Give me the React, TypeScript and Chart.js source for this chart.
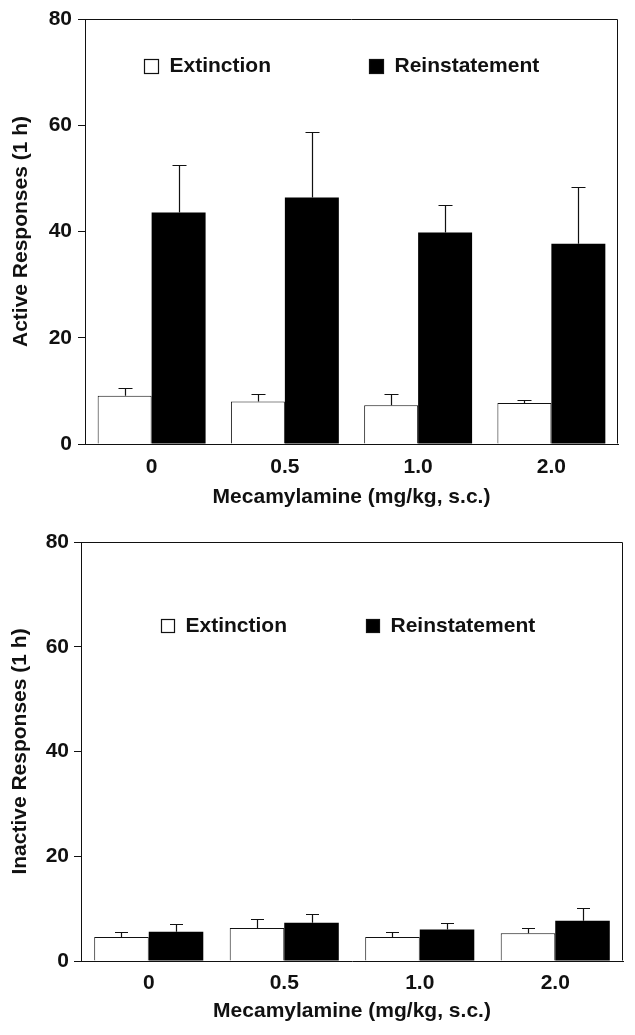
import React, { useEffect, useRef } from 'react';
import { Chart, registerables } from 'chart.js';

Chart.register(...registerables);

// ---------- data ----------
const categories = ['0', '0.5', '1.0', '2.0'];
const seriesLabels = ['Extinction', 'Reinstatement'];
const yTickValues = [0, 20, 40, 60, 80];
const xAxisTitle = 'Mecamylamine (mg/kg, s.c.)';
const activeYTitle = 'Active Responses (1 h)';
const inactiveYTitle = 'Inactive Responses (1 h)';

const activeExtinction = [9.1, 8.0, 7.3, 7.7];
const activeExtinctionErr = [1.4, 1.4, 2.1, 0.6];
const activeReinstatement = [43.6, 46.4, 39.8, 37.7];
const activeReinstatementErr = [9.0, 12.4, 5.1, 10.7];

const inactiveExtinction = [4.6, 6.3, 4.6, 5.3];
const inactiveExtinctionErr = [0.9, 1.8, 0.9, 1.0];
const inactiveReinstatement = [5.6, 7.3, 6.0, 7.7];
const inactiveReinstatementErr = [1.4, 1.7, 1.3, 2.4];

// ---------- styles ----------
const FONT_FAMILY = '"Liberation Sans", Arial, Helvetica, sans-serif';
const INK = '#111111';
const FONT_SIZE = 21;

const errorBarPlugin = {
  id: 'errorBars',
  afterDatasetsDraw(chart: any, _args: any, opts: any) {
    const ctx = chart.ctx;
    const yScale = chart.scales.y;
    chart.data.datasets.forEach((ds: any, di: number) => {
      const meta = chart.getDatasetMeta(di);
      meta.data.forEach((bar: any, i: number) => {
        const v = ds.data[i];
        const e = ds.errors[i];
        const yTop = yScale.getPixelForValue(v + e);
        const x = Math.round(bar.x) + 0.5;
        const yt = Math.round(yTop) + 0.5;
        ctx.save();
        ctx.strokeStyle = INK;
        ctx.lineWidth = opts.lineWidth;
        ctx.beginPath();
        ctx.moveTo(x, bar.y);
        ctx.lineTo(x, yt);
        ctx.moveTo(x - opts.capWidth / 2, yt);
        ctx.lineTo(x + opts.capWidth / 2, yt);
        ctx.stroke();
        ctx.restore();
      });
    });
  },
};

const frameBoxPlugin = {
  id: 'frameBox',
  afterDraw(chart: any) {
    const { ctx, chartArea } = chart;
    const l = Math.round(chartArea.left) + 0.5;
    const r = Math.round(chartArea.right) - 0.5;
    const t = Math.round(chartArea.top) + 0.5;
    const b = Math.round(chartArea.bottom) - 0.5;
    ctx.save();
    ctx.strokeStyle = INK;
    ctx.lineWidth = 1;
    ctx.beginPath();
    ctx.moveTo(l, t);
    ctx.lineTo(r, t);
    ctx.lineTo(r, b);
    ctx.stroke();
    ctx.restore();
  },
};

const insideLegendPlugin = {
  id: 'insideLegend',
  afterDraw(chart: any, _args: any, opts: any) {
    const { ctx, chartArea } = chart;
    ctx.save();
    ctx.font = `bold ${FONT_SIZE}px ${FONT_FAMILY}`;
    ctx.textBaseline = 'middle';
    ctx.textAlign = 'left';
    chart.data.datasets.forEach((ds: any, di: number) => {
      const bx = Math.round(chartArea.left + opts.offsets[di]) + 0.5;
      const by = Math.round(chartArea.top + opts.top) + 0.5;
      const s = opts.boxSize;
      ctx.fillStyle = ds.backgroundColor;
      ctx.fillRect(bx, by, s, s);
      ctx.strokeStyle = INK;
      ctx.lineWidth = 1.2;
      ctx.strokeRect(bx, by, s, s);
      ctx.fillStyle = INK;
      ctx.fillText(ds.label, bx + s + opts.gap, by + s / 2);
    });
    ctx.restore();
  },
};

type PanelProps = {
  width: number;
  height: number;
  extinction: number[];
  extinctionErr: number[];
  reinstatement: number[];
  reinstatementErr: number[];
  yTitle: string;
  padTop: number;
  padRight: number;
  yWidth: number;
  xHeight: number;
  yTitlePad: number;
  xTitlePad: number;
  xTickPad: number;
  yTickPad: number;
  catPct: number;
  capWidth: number;
  legendTop: number;
  legendOffsets: number[];
  legendBox: number;
};

function BarPanel(p: PanelProps) {
  const ref = useRef<HTMLCanvasElement | null>(null);
  useEffect(() => {
    if (!ref.current) return;
    const font = { family: FONT_FAMILY, size: FONT_SIZE, weight: 'bold' as const };
    const chart = new Chart(ref.current, {
      type: 'bar',
      data: {
        labels: categories,
        datasets: [
          {
            label: seriesLabels[0],
            data: p.extinction,
            errors: p.extinctionErr,
            backgroundColor: '#ffffff',
            borderColor: INK,
            borderWidth: 1,
            categoryPercentage: p.catPct,
            barPercentage: 1,
          } as any,
          {
            label: seriesLabels[1],
            data: p.reinstatement,
            errors: p.reinstatementErr,
            backgroundColor: '#000000',
            borderColor: '#000000',
            borderWidth: 0,
            categoryPercentage: p.catPct,
            barPercentage: 1,
          } as any,
        ],
      },
      options: {
        animation: false,
        responsive: false,
        devicePixelRatio: 1,
        layout: { padding: { top: p.padTop, right: p.padRight, bottom: 0, left: 0 } },
        plugins: {
          legend: { display: false },
          tooltip: { enabled: false },
          errorBars: { capWidth: p.capWidth, lineWidth: 1.2 },
          insideLegend: { top: p.legendTop, offsets: p.legendOffsets, boxSize: p.legendBox, gap: 11 },
        } as any,
        scales: {
          x: {
            type: 'category',
            offset: true,
            grid: { display: false, drawTicks: false },
            border: { display: true, color: INK, width: 1 },
            ticks: { font, color: INK, padding: p.xTickPad, maxRotation: 0, autoSkip: false },
            title: {
              display: true,
              text: xAxisTitle,
              font,
              color: INK,
              padding: { top: 0, bottom: p.xTitlePad },
            },
            afterFit: (s: any) => {
              s.height = p.xHeight;
            },
          },
          y: {
            type: 'linear',
            min: 0,
            max: 80,
            afterBuildTicks: (s: any) => {
              s.ticks = yTickValues.map((v) => ({ value: v }));
            },
            grid: {
              display: true,
              drawOnChartArea: false,
              drawTicks: true,
              tickLength: 7,
              color: INK,
              lineWidth: 1,
            },
            border: { display: true, color: INK, width: 1 },
            ticks: { font, color: INK, padding: p.yTickPad },
            title: {
              display: true,
              text: p.yTitle,
              font,
              color: INK,
              padding: { top: p.yTitlePad, bottom: 0 },
            },
            afterFit: (s: any) => {
              s.width = p.yWidth;
            },
          },
        },
      } as any,
      plugins: [errorBarPlugin, frameBoxPlugin, insideLegendPlugin],
    });
    return () => chart.destroy();
  }, []);
  return (
    <canvas
      ref={ref}
      width={p.width}
      height={p.height}
      style={{ display: 'block', width: p.width, height: p.height }}
    />
  );
}

export default function App() {
  return (
    <div
      style={{
        position: 'fixed',
        left: 0,
        top: 0,
        width: 635,
        height: 1035,
        background: '#ffffff',
        overflow: 'hidden',
      }}
    >
      <BarPanel
        width={635}
        height={520}
        extinction={activeExtinction}
        extinctionErr={activeExtinctionErr}
        reinstatement={activeReinstatement}
        reinstatementErr={activeReinstatementErr}
        yTitle={activeYTitle}
        padTop={19}
        padRight={17}
        yWidth={85}
        xHeight={76}
        yTitlePad={8.4}
        xTitlePad={9.9}
        xTickPad={10.9}
        yTickPad={6}
        catPct={0.81}
        capWidth={14}
        legendTop={40}
        legendOffsets={[59, 284]}
        legendBox={14}
      />
      <BarPanel
        width={635}
        height={515}
        extinction={inactiveExtinction}
        extinctionErr={inactiveExtinctionErr}
        reinstatement={inactiveReinstatement}
        reinstatementErr={inactiveReinstatementErr}
        yTitle={inactiveYTitle}
        padTop={22}
        padRight={12}
        yWidth={81}
        xHeight={74}
        yTitlePad={7.4}
        xTitlePad={11.4}
        xTickPad={9.7}
        yTickPad={5}
        catPct={0.805}
        capWidth={13}
        legendTop={77}
        legendOffsets={[80, 285]}
        legendBox={13}
      />
    </div>
  );
}
